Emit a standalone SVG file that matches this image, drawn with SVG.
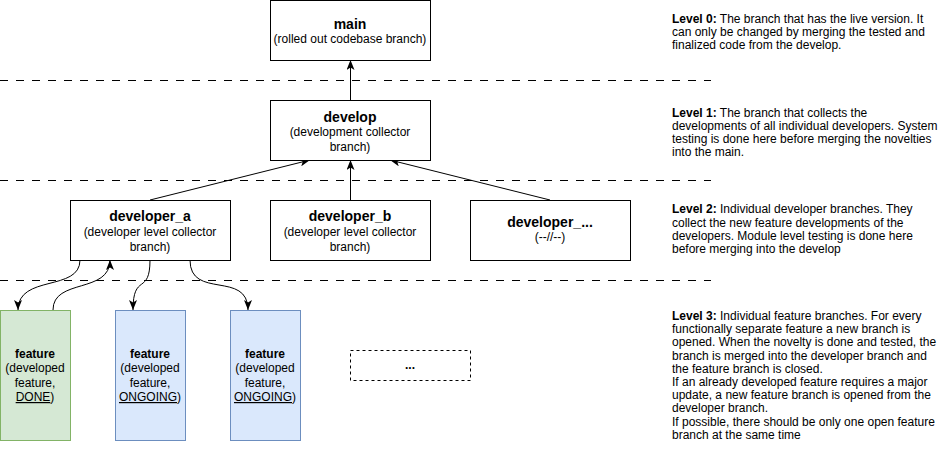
<svg xmlns="http://www.w3.org/2000/svg" width="941" height="461" viewBox="0 0 941 461">
<defs>
<style>
text{font-family:"Liberation Sans",Arial,Helvetica,sans-serif;fill:#000;}
.t{font-size:14px;font-weight:bold;text-anchor:middle;}
.s{font-size:12px;text-anchor:middle;}
.sb{font-size:12px;font-weight:bold;text-anchor:middle;}
.box{fill:#fff;stroke:#000;stroke-width:1;}
.green{fill:#d5e8d4;stroke:#82b366;stroke-width:1;}
.blue{fill:#dae8fc;stroke:#6c8ebf;stroke-width:1;}
.dbox{fill:#fff;stroke:#000;stroke-width:1;stroke-dasharray:3 3;}
.sep{stroke:#000;stroke-width:1;stroke-dasharray:8 8;fill:none;}
.edge{stroke:#000;stroke-width:1;fill:none;marker-end:url(#arr);}
.d{font-size:12px;}
.u{text-decoration:underline;}
</style>
<marker id="arr" viewBox="0 0 10 8" refX="10" refY="4" markerWidth="10" markerHeight="8" orient="auto" markerUnits="userSpaceOnUse">
<path d="M0,0 L10,4 L0,8 L2.5,4 Z" fill="#000"/>
</marker>
</defs>
<rect width="941" height="461" fill="#fff"/>
<g id="separators">
<line class="sep" x1="0" y1="80.5" x2="711" y2="80.5"/>
<line class="sep" x1="0" y1="180.5" x2="711" y2="180.5"/>
<line class="sep" x1="0" y1="280.5" x2="711" y2="280.5"/>
</g>
<g id="connectors">
<path class="edge" d="M350.5,100 L350.5,60"/>
<path class="edge" d="M150,200 L310,160"/>
<path class="edge" d="M350.5,200 L350.5,160"/>
<path class="edge" d="M550,200 L390,160"/>
<path class="edge" d="M80,260 C80,292 18,274 18,310"/>
<path class="edge" d="M53,310 C53,278 110,294 110,260"/>
<path class="edge" d="M150,260 C150,296 133,272 133,310"/>
<path class="edge" d="M190,260 C190,300 248,270 248,310"/>
</g>
<g id="main">
<rect class="box" x="270.5" y="0.5" width="160" height="60"/>
<text class="t" x="350" y="29">main</text>
<text class="s" x="350" y="43">(rolled out codebase branch)</text>
</g>
<g id="develop">
<rect class="box" x="270.5" y="100.5" width="160" height="60"/>
<text class="t" x="350" y="122">develop</text>
<text class="s" x="350" y="136">(development collector</text>
<text class="s" x="350" y="151">branch)</text>
</g>
<g id="developer_a">
<rect class="box" x="70.5" y="200.5" width="160" height="60"/>
<text class="t" x="150" y="221">developer_a</text>
<text class="s" x="150" y="236">(developer level collector</text>
<text class="s" x="150" y="251">branch)</text>
</g>
<g id="developer_b">
<rect class="box" x="270.5" y="200.5" width="160" height="60"/>
<text class="t" x="350" y="221">developer_b</text>
<text class="s" x="350" y="236">(developer level collector</text>
<text class="s" x="350" y="251">branch)</text>
</g>
<g id="developer_more">
<rect class="box" x="470.5" y="200.5" width="160" height="60"/>
<text class="t" x="550" y="227">developer_...</text>
<text class="s" x="550" y="241">(--//--)</text>
</g>
<g id="feature_done">
<rect class="green" x="0.5" y="310.5" width="70" height="130"/>
<text class="sb" x="35" y="357.5">feature</text>
<text class="s" x="35" y="372">(developed</text>
<text class="s" x="35" y="386.5">feature,</text>
<text class="s" x="35" y="401"><tspan class="u">DONE</tspan>)</text>
</g>
<g id="feature_ongoing_1">
<rect class="blue" x="115.5" y="310.5" width="70" height="130"/>
<text class="sb" x="150" y="357.5">feature</text>
<text class="s" x="150" y="372">(developed</text>
<text class="s" x="150" y="386.5">feature,</text>
<text class="s" x="150" y="401"><tspan class="u">ONGOING</tspan>)</text>
</g>
<g id="feature_ongoing_2">
<rect class="blue" x="230.5" y="310.5" width="70" height="130"/>
<text class="sb" x="265" y="357.5">feature</text>
<text class="s" x="265" y="372">(developed</text>
<text class="s" x="265" y="386.5">feature,</text>
<text class="s" x="265" y="401"><tspan class="u">ONGOING</tspan>)</text>
</g>
<g id="feature_more">
<rect class="dbox" x="350.5" y="350.5" width="120" height="30"/>
<text class="sb" x="410" y="369">...</text>
</g>
<g id="level_0">
<text class="d" x="672" y="22.5"><tspan font-weight="bold">Level 0:</tspan> The branch that has the live version. It</text>
<text class="d" x="672" y="35.7">can only be changed by merging the tested and</text>
<text class="d" x="672" y="48.9">finalized code from the develop.</text>
</g>
<g id="level_1">
<text class="d" x="672" y="116.7"><tspan font-weight="bold">Level 1:</tspan> The branch that collects the</text>
<text class="d" x="672" y="129.9">developments of all individual developers. System</text>
<text class="d" x="672" y="143.1">testing is done here before merging the novelties</text>
<text class="d" x="672" y="156.3">into the main.</text>
</g>
<g id="level_2">
<text class="d" x="672" y="213.3"><tspan font-weight="bold">Level 2:</tspan> Individual developer branches. They</text>
<text class="d" x="672" y="226.5">collect the new feature developments of the</text>
<text class="d" x="672" y="239.7">developers. Module level testing is done here</text>
<text class="d" x="672" y="252.9">before merging into the develop</text>
</g>
<g id="level_3">
<text class="d" x="672" y="320"><tspan font-weight="bold">Level 3:</tspan> Individual feature branches. For every</text>
<text class="d" x="672" y="333.2">functionally separate feature a new branch is</text>
<text class="d" x="672" y="346.4">opened. When the novelty is done and tested, the</text>
<text class="d" x="672" y="359.6">branch is merged into the developer branch and</text>
<text class="d" x="672" y="372.8">the feature branch is closed.</text>
<text class="d" x="672" y="386">If an already developed feature requires a major</text>
<text class="d" x="672" y="399.2">update, a new feature branch is opened from the</text>
<text class="d" x="672" y="412.4">developer branch.</text>
<text class="d" x="672" y="425.6">If possible, there should be only one open feature</text>
<text class="d" x="672" y="438.8">branch at the same time</text>
</g>
</svg>
